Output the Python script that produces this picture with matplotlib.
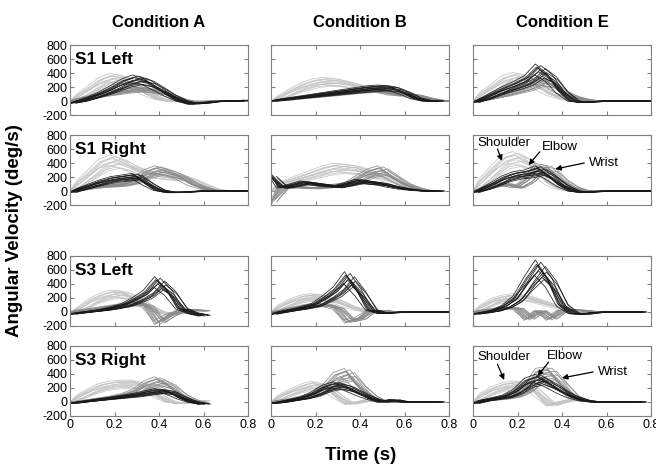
import numpy as np
import matplotlib
matplotlib.use("Agg")
import matplotlib.pyplot as plt

plt.rcParams['font.family'] = ['Liberation Sans', 'DejaVu Sans']

# 시간축 (s), 0.05 간격
t = [0.0, 0.05, 0.1, 0.15, 0.2, 0.25, 0.3, 0.35, 0.4, 0.45, 0.5,
     0.55, 0.6, 0.65, 0.7, 0.75, 0.8]
nan = float('nan')

conditions = ["Condition A", "Condition B", "Condition E"]
rows = ["S1 Left", "S1 Right", "S3 Left", "S3 Right"]

# 관절별 평균 각속도 (deg/s) : [row][condition]
shoulder = [
    [[0, 80, 180, 280, 330, 300, 200, 100, 30, 0, -10, 0, 0, 0, 0, 0, 0],
     [0, 60, 140, 210, 260, 280, 270, 240, 200, 170, 140, 110, 80, 50, 20, 0, nan],
     [0, 100, 200, 300, 340, 300, 200, 100, 40, 0, 0, 0, 0, 0, 0, 0, 0]],
    [[0, 120, 250, 380, 430, 380, 300, 250, 220, 200, 200, 150, 80, 20, 0, 0, 0],
     [0, 100, 150, 200, 250, 300, 330, 320, 300, 250, 200, 130, 60, 20, 0, 0, nan],
     [0, 150, 300, 430, 470, 400, 250, 100, 30, 0, 0, 0, 0, 0, 0, 0, 0]],
    [[0, 50, 150, 220, 260, 250, 180, 80, 0, -30, -20, 0, 20, nan, nan, nan, nan],
     [0, 80, 150, 200, 220, 200, 150, 80, 30, 0, 0, 0, 0, 0, 0, 0, 0],
     [0, 80, 160, 200, 220, 200, 150, 100, 50, 0, 0, 0, 0, 0, 0, 0, nan]],
    [[0, 80, 160, 220, 250, 260, 260, 200, 80, 0, -20, 0, 20, nan, nan, nan, nan],
     [0, 80, 150, 210, 250, 200, 80, -30, 0, 30, 0, 0, 0, 0, 0, 0, nan],
     [0, 100, 180, 230, 250, 240, 100, -50, 0, 30, 20, 0, 0, 0, 0, 0, nan]],
]
elbow = [
    [[-30, 0, 50, 110, 180, 260, 310, 270, 180, 80, 0, -40, -30, -10, 0, 0, 10],
     [0, 20, 40, 60, 80, 100, 120, 140, 160, 180, 190, 180, 120, 40, 0, 0, nan],
     [-20, 30, 100, 170, 230, 300, 440, 330, 130, 0, -20, -10, 0, 0, 0, 0, 0]],
    [[-20, 30, 80, 130, 170, 190, 210, 100, 10, -20, -20, -10, 0, 0, 0, 0, 0],
     [200, 50, 80, 120, 100, 80, 60, 100, 140, 120, 100, 60, 30, 10, 0, 0, nan],
     [-20, 30, 100, 180, 230, 250, 300, 200, 80, 0, -20, -10, 0, 0, 0, 0, 0]],
    [[-30, -10, 10, 30, 60, 100, 170, 260, 420, 280, 50, -20, -50, nan, nan, nan, nan],
     [-30, 0, 30, 60, 100, 190, 300, 480, 280, 30, -20, -10, 0, 0, 0, 0, 0],
     [-30, -10, 20, 80, 190, 420, 620, 420, 100, -20, -30, -10, 0, 0, 0, 0, nan]],
    [[-20, 0, 20, 40, 60, 80, 100, 130, 160, 140, 60, 0, -30, nan, nan, nan, nan],
     [-20, 0, 30, 60, 120, 200, 240, 200, 120, 50, 0, 30, 0, 0, 0, 0, nan],
     [-20, 20, 50, 80, 150, 280, 330, 250, 150, 70, 20, 0, 0, 0, 0, 0, nan]],
]
wrist = [
    [[0, 30, 60, 90, 120, 150, 170, 160, 130, 80, 20, -20, -20, 0, 0, 0, 0],
     [0, 10, 30, 50, 70, 90, 110, 130, 150, 160, 150, 100, 100, 80, 40, 10, 0],
     [0, 20, 60, 100, 150, 200, 280, 250, 130, 60, 20, 0, 0, 0, 0, 0, 0]],
    [[0, 20, 50, 70, 80, 100, 150, 250, 300, 260, 200, 100, 40, 0, 0, 0, 0],
     [-150, 40, 60, 50, 40, 60, 80, 100, 180, 260, 300, 200, 100, 40, 0, 0, nan],
     [0, 30, 80, 100, 50, 150, 330, 300, 150, 50, 0, 0, 0, 0, 0, 0, 0]],
    [[0, 20, 40, 60, 80, 100, 130, 80, -150, -50, 20, 30, 20, nan, nan, nan, nan],
     [0, 20, 50, 80, 100, 100, 50, -130, -100, 20, 20, 0, 0, 0, 0, 0, 0],
     [0, 20, 40, 60, 50, -100, 20, -100, 20, 30, 20, 0, 0, 0, 0, 0, nan]],
    [[0, 10, 30, 50, 70, 100, 150, 250, 300, 230, 100, 20, -20, nan, nan, nan, nan],
     [0, 20, 40, 70, 100, 200, 350, 400, 220, 80, 0, 0, 0, 0, 0, 0, nan],
     [0, 20, 40, 60, 100, 200, 400, 420, 250, 80, 20, 0, 0, 0, 0, 0, nan]],
]

# 시행(trial)별 시간 이동 / 크기 배율
trial_shift = [-0.025, -0.015, -0.005, 0.0, 0.005, 0.015, 0.025, 0.01,
               -0.02, 0.02, -0.01, 0.03]
trial_gain = [0.85, 1.1, 0.95, 1.0, 1.15, 0.9, 1.05, 0.8,
              1.2, 0.75, 1.08, 0.92]

colors = {"shoulder": "#c4c4c4", "wrist": "#8a8a8a", "elbow": "#1a1a1a"}

fig = plt.figure(figsize=(6.56, 4.70), dpi=100)
W, H = 656, 470
col_x = [70, 271, 473]
row_y = [45, 135, 256, 346]
aw, ah = 178, 70

t_arr = np.array(t)
axes = {}
for r in range(4):
    for c in range(3):
        ax = fig.add_axes([col_x[c] / W, 1 - (row_y[r] + ah) / H, aw / W, ah / H])
        axes[(r, c)] = ax
        for name, data in [("shoulder", shoulder), ("wrist", wrist), ("elbow", elbow)]:
            v = np.array(data[r][c], dtype=float)
            for s, g in zip(trial_shift, trial_gain):
                ax.plot(np.clip(t_arr + s, 0, 0.8), v * g, color=colors[name],
                        lw=0.6, alpha=0.9)
        ax.set_xlim(0, 0.8)
        ax.set_ylim(-200, 800)
        ax.set_xticks([0, 0.2, 0.4, 0.6, 0.8])
        ax.set_yticks([-200, 0, 200, 400, 600, 800])
        ax.tick_params(direction='in', length=3, color='#808080', labelsize=9,
                       top=True, right=True, pad=2)
        for sp in ax.spines.values():
            sp.set_color('#808080')
        if c == 0:
            ax.set_yticklabels(['-200', '0', '200', '400', '600', '800'])
            ax.text(0.03, 0.9, rows[r], transform=ax.transAxes, fontsize=12.5,
                    fontweight='bold', va='top')
        else:
            ax.set_yticklabels([])
        if r == 3:
            ax.set_xticklabels(['0', '0.2', '0.4', '0.6', '0.8'])
        else:
            ax.set_xticklabels([])
        if r == 0:
            ax.set_title(conditions[c], fontsize=12, fontweight='bold', pad=13)

# 관절 이름 주석
arrow = dict(arrowstyle='-|>', color='black', lw=0.9, mutation_scale=8,
             shrinkA=0, shrinkB=0)
notes = [
    ((1, 2), "Shoulder", (0.02, 690), (0.11, 600), (0.13, 430)),
    ((1, 2), "Elbow", (0.31, 630), (0.30, 560), (0.25, 371)),
    ((1, 2), "Wrist", (0.52, 400), (0.50, 400), (0.37, 314)),
    ((3, 2), "Shoulder", (0.02, 643), (0.11, 540), (0.14, 314)),
    ((3, 2), "Elbow", (0.33, 657), (0.34, 570), (0.29, 371)),
    ((3, 2), "Wrist", (0.56, 429), (0.54, 429), (0.40, 343)),
]
for key, label, txy, tail, head in notes:
    ax = axes[key]
    ax.text(txy[0], txy[1], label, fontsize=9.5, va='center')
    ax.annotate("", xy=head, xytext=tail, arrowprops=arrow)

fig.text(15 / W, 0.51, "Angular Velocity (deg/s)", rotation=90, fontsize=13.5,
         fontweight='bold', ha='center', va='center')
fig.text(0.55, 1 - 455 / H, "Time (s)", fontsize=13.5, fontweight='bold',
         ha='center', va='center')

fig.savefig("out.png", dpi=100)
